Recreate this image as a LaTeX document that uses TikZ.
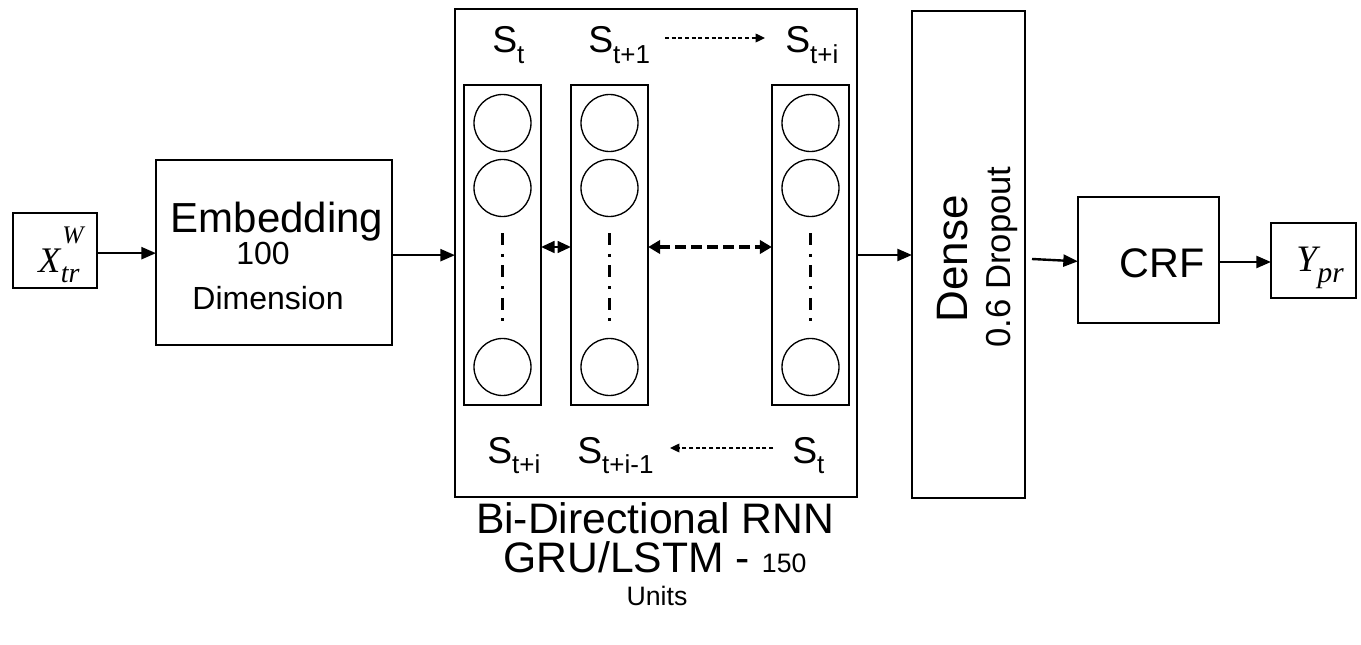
\documentclass[tikz,border=0pt]{standalone}
\usepackage{fontspec}
\setmainfont{Liberation Sans}
\newfontfamily\xserif{Liberation Serif}
\usetikzlibrary{arrows.meta}
\newcommand\Sl[1]{S\raisebox{-0.27em}{\fontsize{19.5}{19.5}\selectfont #1}}
\begin{document}
\begin{tikzpicture}[x=0.75pt,y=-0.75pt,
  box/.style={draw, line width=1.6pt, inner sep=0pt, outer sep=0pt},
  colbox/.style={draw, line width=1.2pt, inner sep=0pt, outer sep=0pt, minimum width=58pt, minimum height=240pt},
  unit/.style={circle, draw, line width=1pt, minimum size=42.75pt, inner sep=0pt},
  arr/.style={line width=1.8pt, -{Triangle[length=11pt,width=9pt]}},
  thinarr/.style={line width=1pt, dash pattern=on 3pt off 2pt, -{Triangle[length=7pt,width=6.5pt]}},
  bidash/.style={line width=2.4pt, dash pattern=on 8pt off 4pt, {Triangle[length=9pt,width=10pt]}-{Triangle[length=9pt,width=10pt]}},
  tiny2/.style={line width=1.2pt, {Triangle[length=10pt,width=9pt]}-{Triangle[length=10pt,width=9pt]}},
  dashdot/.style={line width=2pt, dash pattern=on 9pt off 6.5pt on 2.25pt off 6.5pt},
  slab/.style={inner sep=0pt, font=\fontsize{28}{28}\selectfont, anchor=base west},
  mathlab/.style={inner sep=0pt, anchor=base west, font=\xserif\itshape},
]
\useasboundingbox (0,0) rectangle (1361,645);

% boxes
\node[box, minimum width=63pt, minimum height=56.25pt] (xtr) at (55,250.5) {};
\node[box, minimum width=177pt, minimum height=138.75pt] (emb) at (274,252.5) {};
\node[box, minimum width=301.5pt, minimum height=366pt] (rnn) at (656,253) {};
\node[box, minimum width=84.75pt, minimum height=365.25pt] (dense) at (968.5,254.5) {};
\node[box, minimum width=105.75pt, minimum height=94.5pt] (crf) at (1148.5,260) {};
\node[box, minimum width=63.75pt, minimum height=56.25pt] (ypr) at (1313.5,260.5) {};

% columns
\node[colbox] (c1) at (502.5,245) {};
\node[colbox] (c2) at (609.5,245) {};
\node[colbox] (c3) at (810.5,245) {};

% units
\foreach \c/\x in {1/502.5,2/609.5,3/810.5}{
  \node[unit] (u\c a) at (\x,123) {};
  \node[unit] (u\c b) at (\x,188) {};
  \node[unit] (u\c c) at (\x,367) {};
  \draw[dashdot, shorten <=12pt, shorten >=8.5pt] (u\c b.south) -- (u\c c.north);
}

% texts
\node[mathlab] (xtrt) at (38,273) {\fontsize{27}{27}\selectfont X\rlap{\kern1.5pt\raisebox{22pt}{\fontsize{19}{19}\selectfont W}}\kern0.5pt\raisebox{-7.5pt}{\fontsize{21}{21}\selectfont tr}};
\node[mathlab] (yprt) at (1296,272) {\fontsize{28}{28}\selectfont Y\kern0.5pt\raisebox{-8.25pt}{\fontsize{22}{22}\selectfont pr}};
\node[anchor=base, inner sep=0pt, font=\fontsize{31.5}{32}\selectfont] (embt) at (277,233) {Embedding};
\node[anchor=base, inner sep=0pt, font=\fontsize{24}{24}\selectfont] (hund) at (263,265) {100};
\node[anchor=base, inner sep=0pt, font=\fontsize{24}{24}\selectfont] (dimt) at (268,310) {Dimension};

\node[slab] (s1t) at (492,53) {\Sl{t}};
\node[slab] (s2t) at (588,53) {\Sl{t+1}};
\node[slab] (s3t) at (785,53) {\Sl{t+i}};
\node[slab] (s1b) at (487,463) {\Sl{t+i}};
\node[slab] (s2b) at (577,463) {\Sl{t+i-1}};
\node[slab] (s3b) at (792,463) {\Sl{t}};

\node[rotate=90, inner sep=0pt, font=\fontsize{33}{33}\selectfont] (denset) at (953,259) {Dense};
\node[rotate=90, inner sep=0pt, font=\fontsize{26}{26}\selectfont] (dropt) at (1002,257) {0.6 Dropout};
\node[inner sep=0pt, font=\fontsize{31}{31}\selectfont] (crft) at (1162,263) {CRF};

\node[anchor=base, inner sep=0pt, font=\fontsize{32}{32}\selectfont] (bdt) at (655,533) {Bi-Directional RNN};
\node[anchor=base, inner sep=0pt] (grut) at (655,572) {\fontsize{32}{32}\selectfont GRU/LSTM - {\fontsize{20}{20}\selectfont 150}};
\node[anchor=base, inner sep=0pt, font=\fontsize{20}{20}\selectfont] (unitst) at (657,605) {Units};

% connectors
\draw[arr] ([yshift=-2pt]xtr.east) -- ([yshift=-2pt]xtr.east -| emb.west);
\draw[arr] ([yshift=-2pt]emb.east) -- ([yshift=-2pt]emb.east -| rnn.west);
\draw[arr] ([yshift=-1.5pt]rnn.east) -- ([yshift=-1.5pt]rnn.east -| dense.west);
\coordinate (dout) at (1032,259);
\draw[arr] (dout) -- ([yshift=-1pt]crf.west);
\draw[arr] ([yshift=-1.5pt]crf.east) -- ([yshift=-1.5pt]crf.east -| ypr.west);

\draw[tiny2] ([yshift=-1.5pt]c1.east) -- ([yshift=-1.5pt]c2.west);
\draw[bidash] ([yshift=-1.5pt]c2.east) -- ([yshift=-1.5pt]c3.west);

\coordinate (ta1) at (665,38);
\coordinate (ta2) at (765,38);
\draw[thinarr] (ta1) -- (ta2);
\coordinate (ba1) at (773,448);
\coordinate (ba2) at (670,448);
\draw[thinarr] (ba1) -- (ba2);
\end{tikzpicture}
\end{document}
